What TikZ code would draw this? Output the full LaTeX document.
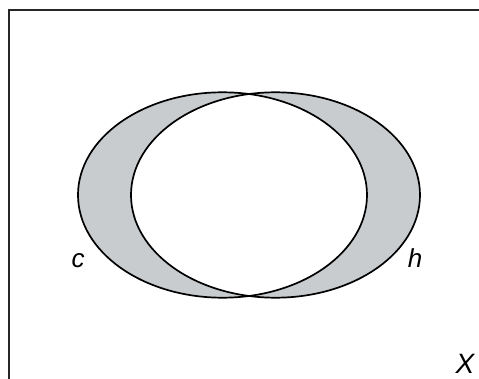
\documentclass[tikz,border=0pt]{standalone}
\usepackage{fontspec}
\setmainfont{Liberation Sans}
\definecolor{shadegray}{RGB}{200,204,207}
\begin{document}
\begin{tikzpicture}[x=1pt,y=1pt,
  lab/.style={font=\fontsize{26}{30}\selectfont\itshape, inner sep=0pt, anchor=base},
  ring/.style={draw=black, line width=1.7pt},
  frame/.style={draw=black!85, line width=1.6pt}]
\useasboundingbox (0,0) rectangle (479,378);
\clip (0,0) rectangle (479,378);
\fill[white] (0,0) rectangle (479,378);
\draw[frame] (9,368) rectangle (500,-20);
\fill[shadegray, even odd rule]
  (222.5,183) ellipse [x radius=144.5, y radius=102.7]
  (275.5,183) ellipse [x radius=144.5, y radius=102.7];
\draw[ring] (222.5,183) ellipse [x radius=144.5, y radius=102.7];
\draw[ring] (275.5,183) ellipse [x radius=144.5, y radius=102.7];
\node[lab] (c) at (78,111) {c};
\node[lab] (h) at (415,111) {h};
\node[lab, font=\fontsize{28}{32}\selectfont\itshape] (X) at (465,5) {X};
\end{tikzpicture}
\end{document}
